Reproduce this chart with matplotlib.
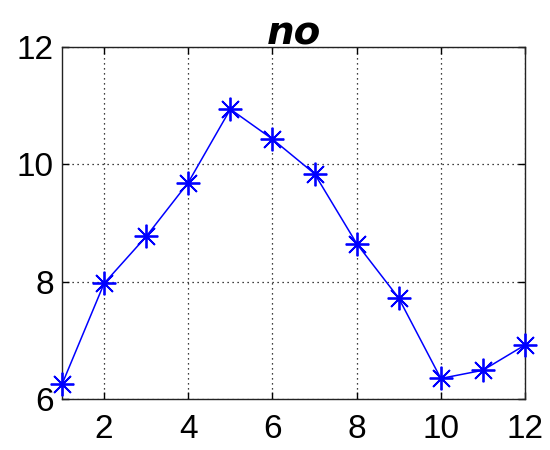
import matplotlib
matplotlib.use("Agg")
import matplotlib.pyplot as plt

x_vals = [1, 2, 3, 4, 5, 6, 7, 8, 9, 10, 11, 12]
y_vals = [6.25, 7.97, 8.77, 9.69, 10.94, 10.43, 9.84, 8.65, 7.72, 6.35, 6.49, 6.92]
x_ticks = [2, 4, 6, 8, 10, 12]
y_ticks = [6, 8, 10, 12]
title_text = "no"

fig = plt.figure(figsize=(5.5, 4.5), dpi=100)
ax = fig.add_axes([62 / 550, 51 / 450, 463 / 550, 352 / 450])

# MATLAB-style asterisk marker (8 arms)
ax.plot(x_vals, y_vals, color='#0000ff', linewidth=1.1, marker=(8, 2, 0),
        markersize=17, markeredgewidth=1.3, zorder=3, clip_on=False)

ax.set_xlim(1, 12)
ax.set_ylim(6, 12)
ax.set_xticks(x_ticks)
ax.set_yticks(y_ticks)
ax.grid(True, color='black', linestyle=(0, (1, 3)), linewidth=0.9)
ax.tick_params(direction='in', length=5, width=1, top=True, right=True,
               labelsize=24, colors='black')
ax.tick_params(axis='x', pad=11)
ax.tick_params(axis='y', pad=6)
for lbl in ax.get_xticklabels() + ax.get_yticklabels():
    lbl.set_family('Liberation Sans')
for sp in ax.spines.values():
    sp.set_linewidth(1)
    sp.set_color('#222222')

ax.set_title(title_text, fontsize=28, fontweight='bold', fontstyle='italic',
             family='DejaVu Sans', pad=2)

fig.savefig("out.png", dpi=100, facecolor='white')
